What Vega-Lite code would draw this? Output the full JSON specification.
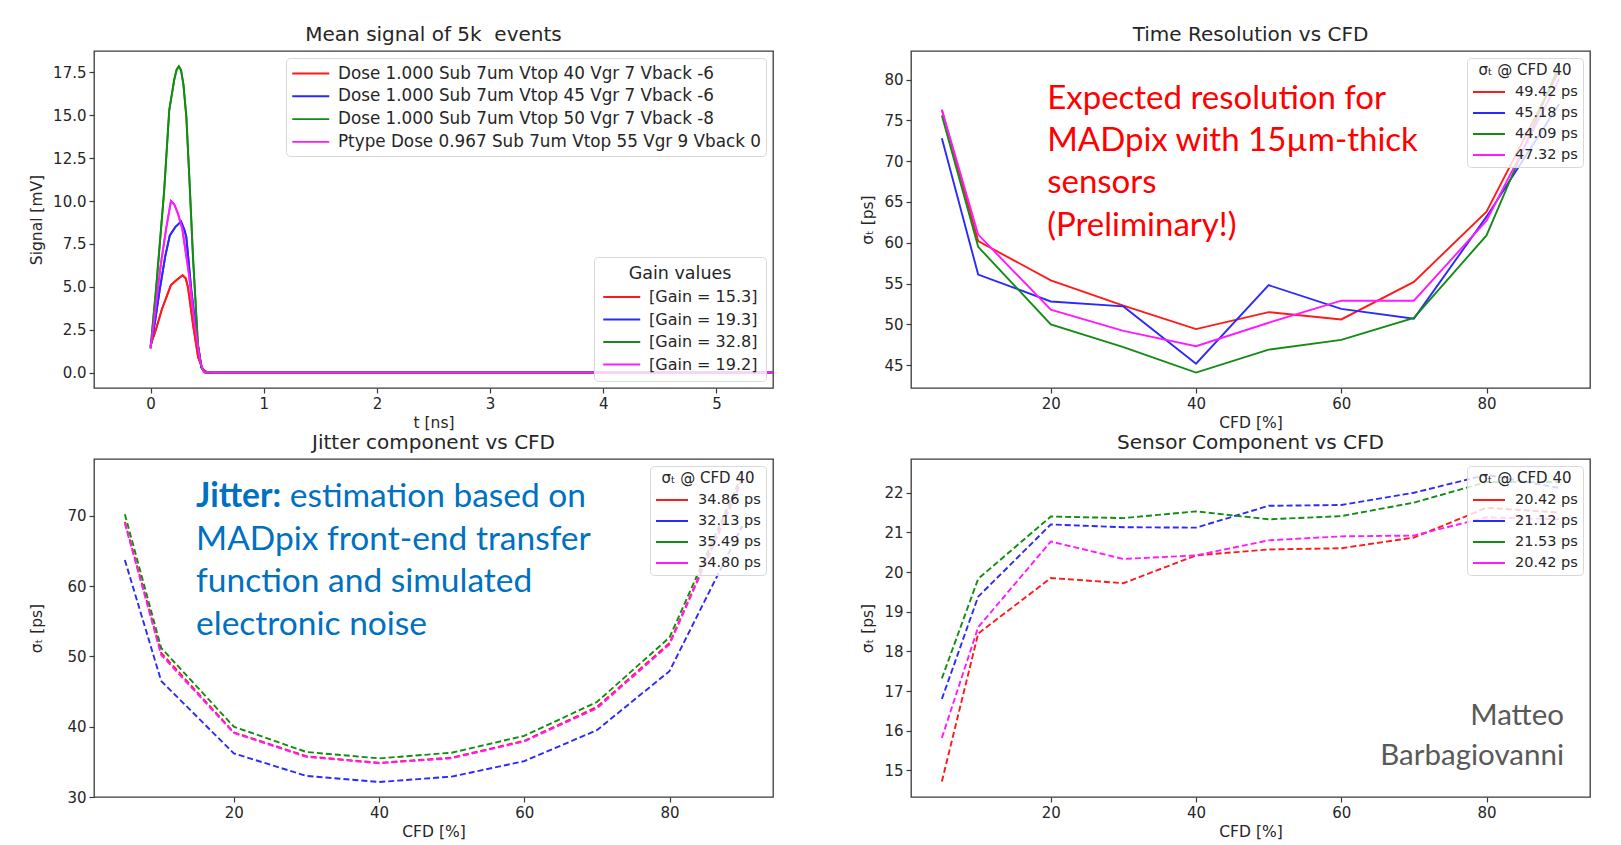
{
  "$schema": "https://vega.github.io/schema/vega-lite/v6.json",
  "padding": {"left": 28, "top": 24, "right": 0, "bottom": 0},
  "background": "white",
  "datasets": {
    "signal": [
      {"series": "Dose 1.000 Sub 7um Vtop 40 Vgr 7 Vback -6", "gain": "[Gain = 15.3]", "t": 0, "v": 1.6},
      {"series": "Dose 1.000 Sub 7um Vtop 40 Vgr 7 Vback -6", "gain": "[Gain = 15.3]", "t": 0.015, "v": 1.9},
      {"series": "Dose 1.000 Sub 7um Vtop 40 Vgr 7 Vback -6", "gain": "[Gain = 15.3]", "t": 0.044, "v": 2.45},
      {"series": "Dose 1.000 Sub 7um Vtop 40 Vgr 7 Vback -6", "gain": "[Gain = 15.3]", "t": 0.1, "v": 3.7},
      {"series": "Dose 1.000 Sub 7um Vtop 40 Vgr 7 Vback -6", "gain": "[Gain = 15.3]", "t": 0.18, "v": 5.1},
      {"series": "Dose 1.000 Sub 7um Vtop 40 Vgr 7 Vback -6", "gain": "[Gain = 15.3]", "t": 0.23, "v": 5.4},
      {"series": "Dose 1.000 Sub 7um Vtop 40 Vgr 7 Vback -6", "gain": "[Gain = 15.3]", "t": 0.283, "v": 5.68},
      {"series": "Dose 1.000 Sub 7um Vtop 40 Vgr 7 Vback -6", "gain": "[Gain = 15.3]", "t": 0.31, "v": 5.5},
      {"series": "Dose 1.000 Sub 7um Vtop 40 Vgr 7 Vback -6", "gain": "[Gain = 15.3]", "t": 0.33, "v": 5.0},
      {"series": "Dose 1.000 Sub 7um Vtop 40 Vgr 7 Vback -6", "gain": "[Gain = 15.3]", "t": 0.375, "v": 2.8},
      {"series": "Dose 1.000 Sub 7um Vtop 40 Vgr 7 Vback -6", "gain": "[Gain = 15.3]", "t": 0.42, "v": 0.9},
      {"series": "Dose 1.000 Sub 7um Vtop 40 Vgr 7 Vback -6", "gain": "[Gain = 15.3]", "t": 0.46, "v": 0.2},
      {"series": "Dose 1.000 Sub 7um Vtop 40 Vgr 7 Vback -6", "gain": "[Gain = 15.3]", "t": 0.5, "v": 0.03},
      {"series": "Dose 1.000 Sub 7um Vtop 40 Vgr 7 Vback -6", "gain": "[Gain = 15.3]", "t": 0.55, "v": 0},
      {"series": "Dose 1.000 Sub 7um Vtop 40 Vgr 7 Vback -6", "gain": "[Gain = 15.3]", "t": 1, "v": 0},
      {"series": "Dose 1.000 Sub 7um Vtop 40 Vgr 7 Vback -6", "gain": "[Gain = 15.3]", "t": 2, "v": 0},
      {"series": "Dose 1.000 Sub 7um Vtop 40 Vgr 7 Vback -6", "gain": "[Gain = 15.3]", "t": 3, "v": 0},
      {"series": "Dose 1.000 Sub 7um Vtop 40 Vgr 7 Vback -6", "gain": "[Gain = 15.3]", "t": 4, "v": 0},
      {"series": "Dose 1.000 Sub 7um Vtop 40 Vgr 7 Vback -6", "gain": "[Gain = 15.3]", "t": 5, "v": 0},
      {"series": "Dose 1.000 Sub 7um Vtop 40 Vgr 7 Vback -6", "gain": "[Gain = 15.3]", "t": 5.5, "v": 0},

      {"series": "Dose 1.000 Sub 7um Vtop 45 Vgr 7 Vback -6", "gain": "[Gain = 19.3]", "t": 0, "v": 1.5},
      {"series": "Dose 1.000 Sub 7um Vtop 45 Vgr 7 Vback -6", "gain": "[Gain = 19.3]", "t": 0.04, "v": 3.0},
      {"series": "Dose 1.000 Sub 7um Vtop 45 Vgr 7 Vback -6", "gain": "[Gain = 19.3]", "t": 0.08, "v": 4.8},
      {"series": "Dose 1.000 Sub 7um Vtop 45 Vgr 7 Vback -6", "gain": "[Gain = 19.3]", "t": 0.13, "v": 6.8},
      {"series": "Dose 1.000 Sub 7um Vtop 45 Vgr 7 Vback -6", "gain": "[Gain = 19.3]", "t": 0.17, "v": 8.0},
      {"series": "Dose 1.000 Sub 7um Vtop 45 Vgr 7 Vback -6", "gain": "[Gain = 19.3]", "t": 0.22, "v": 8.5},
      {"series": "Dose 1.000 Sub 7um Vtop 45 Vgr 7 Vback -6", "gain": "[Gain = 19.3]", "t": 0.27, "v": 8.8},
      {"series": "Dose 1.000 Sub 7um Vtop 45 Vgr 7 Vback -6", "gain": "[Gain = 19.3]", "t": 0.3, "v": 8.3},
      {"series": "Dose 1.000 Sub 7um Vtop 45 Vgr 7 Vback -6", "gain": "[Gain = 19.3]", "t": 0.316, "v": 7.9},
      {"series": "Dose 1.000 Sub 7um Vtop 45 Vgr 7 Vback -6", "gain": "[Gain = 19.3]", "t": 0.36, "v": 4.8},
      {"series": "Dose 1.000 Sub 7um Vtop 45 Vgr 7 Vback -6", "gain": "[Gain = 19.3]", "t": 0.41, "v": 2.0},
      {"series": "Dose 1.000 Sub 7um Vtop 45 Vgr 7 Vback -6", "gain": "[Gain = 19.3]", "t": 0.45, "v": 0.3},
      {"series": "Dose 1.000 Sub 7um Vtop 45 Vgr 7 Vback -6", "gain": "[Gain = 19.3]", "t": 0.48, "v": 0.02},
      {"series": "Dose 1.000 Sub 7um Vtop 45 Vgr 7 Vback -6", "gain": "[Gain = 19.3]", "t": 0.55, "v": 0},
      {"series": "Dose 1.000 Sub 7um Vtop 45 Vgr 7 Vback -6", "gain": "[Gain = 19.3]", "t": 1, "v": 0},
      {"series": "Dose 1.000 Sub 7um Vtop 45 Vgr 7 Vback -6", "gain": "[Gain = 19.3]", "t": 2, "v": 0},
      {"series": "Dose 1.000 Sub 7um Vtop 45 Vgr 7 Vback -6", "gain": "[Gain = 19.3]", "t": 3, "v": 0},
      {"series": "Dose 1.000 Sub 7um Vtop 45 Vgr 7 Vback -6", "gain": "[Gain = 19.3]", "t": 4, "v": 0},
      {"series": "Dose 1.000 Sub 7um Vtop 45 Vgr 7 Vback -6", "gain": "[Gain = 19.3]", "t": 5, "v": 0},
      {"series": "Dose 1.000 Sub 7um Vtop 45 Vgr 7 Vback -6", "gain": "[Gain = 19.3]", "t": 5.5, "v": 0},

      {"series": "Dose 1.000 Sub 7um Vtop 50 Vgr 7 Vback -8", "gain": "[Gain = 32.8]", "t": 0, "v": 1.45},
      {"series": "Dose 1.000 Sub 7um Vtop 50 Vgr 7 Vback -8", "gain": "[Gain = 32.8]", "t": 0.05, "v": 5.0},
      {"series": "Dose 1.000 Sub 7um Vtop 50 Vgr 7 Vback -8", "gain": "[Gain = 32.8]", "t": 0.12, "v": 10.6},
      {"series": "Dose 1.000 Sub 7um Vtop 50 Vgr 7 Vback -8", "gain": "[Gain = 32.8]", "t": 0.165, "v": 15.3},
      {"series": "Dose 1.000 Sub 7um Vtop 50 Vgr 7 Vback -8", "gain": "[Gain = 32.8]", "t": 0.21, "v": 17.1},
      {"series": "Dose 1.000 Sub 7um Vtop 50 Vgr 7 Vback -8", "gain": "[Gain = 32.8]", "t": 0.23, "v": 17.65},
      {"series": "Dose 1.000 Sub 7um Vtop 50 Vgr 7 Vback -8", "gain": "[Gain = 32.8]", "t": 0.25, "v": 17.85},
      {"series": "Dose 1.000 Sub 7um Vtop 50 Vgr 7 Vback -8", "gain": "[Gain = 32.8]", "t": 0.27, "v": 17.6},
      {"series": "Dose 1.000 Sub 7um Vtop 50 Vgr 7 Vback -8", "gain": "[Gain = 32.8]", "t": 0.29, "v": 16.8},
      {"series": "Dose 1.000 Sub 7um Vtop 50 Vgr 7 Vback -8", "gain": "[Gain = 32.8]", "t": 0.316, "v": 14.9},
      {"series": "Dose 1.000 Sub 7um Vtop 50 Vgr 7 Vback -8", "gain": "[Gain = 32.8]", "t": 0.345, "v": 11.0},
      {"series": "Dose 1.000 Sub 7um Vtop 50 Vgr 7 Vback -8", "gain": "[Gain = 32.8]", "t": 0.375, "v": 6.7},
      {"series": "Dose 1.000 Sub 7um Vtop 50 Vgr 7 Vback -8", "gain": "[Gain = 32.8]", "t": 0.42, "v": 1.5},
      {"series": "Dose 1.000 Sub 7um Vtop 50 Vgr 7 Vback -8", "gain": "[Gain = 32.8]", "t": 0.45, "v": 0.3},
      {"series": "Dose 1.000 Sub 7um Vtop 50 Vgr 7 Vback -8", "gain": "[Gain = 32.8]", "t": 0.48, "v": 0.02},
      {"series": "Dose 1.000 Sub 7um Vtop 50 Vgr 7 Vback -8", "gain": "[Gain = 32.8]", "t": 0.55, "v": 0},
      {"series": "Dose 1.000 Sub 7um Vtop 50 Vgr 7 Vback -8", "gain": "[Gain = 32.8]", "t": 1, "v": 0},
      {"series": "Dose 1.000 Sub 7um Vtop 50 Vgr 7 Vback -8", "gain": "[Gain = 32.8]", "t": 2, "v": 0},
      {"series": "Dose 1.000 Sub 7um Vtop 50 Vgr 7 Vback -8", "gain": "[Gain = 32.8]", "t": 3, "v": 0},
      {"series": "Dose 1.000 Sub 7um Vtop 50 Vgr 7 Vback -8", "gain": "[Gain = 32.8]", "t": 4, "v": 0},
      {"series": "Dose 1.000 Sub 7um Vtop 50 Vgr 7 Vback -8", "gain": "[Gain = 32.8]", "t": 5, "v": 0},
      {"series": "Dose 1.000 Sub 7um Vtop 50 Vgr 7 Vback -8", "gain": "[Gain = 32.8]", "t": 5.5, "v": 0},

      {"series": "Ptype Dose 0.967 Sub 7um Vtop 55 Vgr 9 Vback 0", "gain": "[Gain = 19.2]", "t": 0, "v": 1.4},
      {"series": "Ptype Dose 0.967 Sub 7um Vtop 55 Vgr 9 Vback 0", "gain": "[Gain = 19.2]", "t": 0.045, "v": 3.8},
      {"series": "Ptype Dose 0.967 Sub 7um Vtop 55 Vgr 9 Vback 0", "gain": "[Gain = 19.2]", "t": 0.09, "v": 6.3},
      {"series": "Ptype Dose 0.967 Sub 7um Vtop 55 Vgr 9 Vback 0", "gain": "[Gain = 19.2]", "t": 0.14, "v": 8.5},
      {"series": "Ptype Dose 0.967 Sub 7um Vtop 55 Vgr 9 Vback 0", "gain": "[Gain = 19.2]", "t": 0.18, "v": 10.0},
      {"series": "Ptype Dose 0.967 Sub 7um Vtop 55 Vgr 9 Vback 0", "gain": "[Gain = 19.2]", "t": 0.21, "v": 9.8},
      {"series": "Ptype Dose 0.967 Sub 7um Vtop 55 Vgr 9 Vback 0", "gain": "[Gain = 19.2]", "t": 0.24, "v": 9.3},
      {"series": "Ptype Dose 0.967 Sub 7um Vtop 55 Vgr 9 Vback 0", "gain": "[Gain = 19.2]", "t": 0.28, "v": 8.4},
      {"series": "Ptype Dose 0.967 Sub 7um Vtop 55 Vgr 9 Vback 0", "gain": "[Gain = 19.2]", "t": 0.34, "v": 5.7},
      {"series": "Ptype Dose 0.967 Sub 7um Vtop 55 Vgr 9 Vback 0", "gain": "[Gain = 19.2]", "t": 0.39, "v": 2.8},
      {"series": "Ptype Dose 0.967 Sub 7um Vtop 55 Vgr 9 Vback 0", "gain": "[Gain = 19.2]", "t": 0.44, "v": 0.6},
      {"series": "Ptype Dose 0.967 Sub 7um Vtop 55 Vgr 9 Vback 0", "gain": "[Gain = 19.2]", "t": 0.47, "v": 0.05},
      {"series": "Ptype Dose 0.967 Sub 7um Vtop 55 Vgr 9 Vback 0", "gain": "[Gain = 19.2]", "t": 0.55, "v": 0},
      {"series": "Ptype Dose 0.967 Sub 7um Vtop 55 Vgr 9 Vback 0", "gain": "[Gain = 19.2]", "t": 1, "v": 0},
      {"series": "Ptype Dose 0.967 Sub 7um Vtop 55 Vgr 9 Vback 0", "gain": "[Gain = 19.2]", "t": 2, "v": 0},
      {"series": "Ptype Dose 0.967 Sub 7um Vtop 55 Vgr 9 Vback 0", "gain": "[Gain = 19.2]", "t": 3, "v": 0},
      {"series": "Ptype Dose 0.967 Sub 7um Vtop 55 Vgr 9 Vback 0", "gain": "[Gain = 19.2]", "t": 4, "v": 0},
      {"series": "Ptype Dose 0.967 Sub 7um Vtop 55 Vgr 9 Vback 0", "gain": "[Gain = 19.2]", "t": 5, "v": 0},
      {"series": "Ptype Dose 0.967 Sub 7um Vtop 55 Vgr 9 Vback 0", "gain": "[Gain = 19.2]", "t": 5.5, "v": 0}
    ],
    "tres": [
      {"c": "r", "cfd": 5, "sig": 76.3}, {"c": "r", "cfd": 10, "sig": 60.2}, {"c": "r", "cfd": 20, "sig": 55.4}, {"c": "r", "cfd": 30, "sig": 52.3}, {"c": "r", "cfd": 40, "sig": 49.42}, {"c": "r", "cfd": 50, "sig": 51.5}, {"c": "r", "cfd": 60, "sig": 50.6}, {"c": "r", "cfd": 70, "sig": 55.2}, {"c": "r", "cfd": 80, "sig": 63.8}, {"c": "r", "cfd": 90, "sig": 81.1},
      {"c": "b", "cfd": 5, "sig": 72.8}, {"c": "b", "cfd": 10, "sig": 56.1}, {"c": "b", "cfd": 20, "sig": 52.8}, {"c": "b", "cfd": 30, "sig": 52.2}, {"c": "b", "cfd": 40, "sig": 45.18}, {"c": "b", "cfd": 50, "sig": 54.8}, {"c": "b", "cfd": 60, "sig": 51.9}, {"c": "b", "cfd": 70, "sig": 50.7}, {"c": "b", "cfd": 80, "sig": 63.2}, {"c": "b", "cfd": 90, "sig": 77.0},
      {"c": "g", "cfd": 5, "sig": 75.6}, {"c": "g", "cfd": 10, "sig": 59.5}, {"c": "g", "cfd": 20, "sig": 50.0}, {"c": "g", "cfd": 30, "sig": 47.2}, {"c": "g", "cfd": 40, "sig": 44.09}, {"c": "g", "cfd": 50, "sig": 46.9}, {"c": "g", "cfd": 60, "sig": 48.1}, {"c": "g", "cfd": 70, "sig": 50.8}, {"c": "g", "cfd": 80, "sig": 60.9}, {"c": "g", "cfd": 90, "sig": 81.7},
      {"c": "m", "cfd": 5, "sig": 76.3}, {"c": "m", "cfd": 10, "sig": 61.0}, {"c": "m", "cfd": 20, "sig": 51.8}, {"c": "m", "cfd": 30, "sig": 49.2}, {"c": "m", "cfd": 40, "sig": 47.32}, {"c": "m", "cfd": 50, "sig": 50.2}, {"c": "m", "cfd": 60, "sig": 52.9}, {"c": "m", "cfd": 70, "sig": 52.9}, {"c": "m", "cfd": 80, "sig": 62.7}, {"c": "m", "cfd": 90, "sig": 80.0}
    ],
    "jitter": [
      {"c": "r", "cfd": 5, "sig": 69.1}, {"c": "r", "cfd": 10, "sig": 50.5}, {"c": "r", "cfd": 20, "sig": 39.2}, {"c": "r", "cfd": 30, "sig": 35.8}, {"c": "r", "cfd": 40, "sig": 34.86}, {"c": "r", "cfd": 50, "sig": 35.6}, {"c": "r", "cfd": 60, "sig": 38.0}, {"c": "r", "cfd": 70, "sig": 42.8}, {"c": "r", "cfd": 80, "sig": 51.9}, {"c": "r", "cfd": 90, "sig": 75.2},
      {"c": "b", "cfd": 5, "sig": 63.7}, {"c": "b", "cfd": 10, "sig": 46.5}, {"c": "b", "cfd": 20, "sig": 36.2}, {"c": "b", "cfd": 30, "sig": 33.0}, {"c": "b", "cfd": 40, "sig": 32.13}, {"c": "b", "cfd": 50, "sig": 32.9}, {"c": "b", "cfd": 60, "sig": 35.1}, {"c": "b", "cfd": 70, "sig": 39.5}, {"c": "b", "cfd": 80, "sig": 47.9}, {"c": "b", "cfd": 90, "sig": 68.5},
      {"c": "g", "cfd": 5, "sig": 70.2}, {"c": "g", "cfd": 10, "sig": 51.2}, {"c": "g", "cfd": 20, "sig": 40.0}, {"c": "g", "cfd": 30, "sig": 36.4}, {"c": "g", "cfd": 40, "sig": 35.49}, {"c": "g", "cfd": 50, "sig": 36.3}, {"c": "g", "cfd": 60, "sig": 38.7}, {"c": "g", "cfd": 70, "sig": 43.5}, {"c": "g", "cfd": 80, "sig": 52.7}, {"c": "g", "cfd": 90, "sig": 75.8},
      {"c": "m", "cfd": 5, "sig": 68.9}, {"c": "m", "cfd": 10, "sig": 50.2}, {"c": "m", "cfd": 20, "sig": 39.1}, {"c": "m", "cfd": 30, "sig": 35.7}, {"c": "m", "cfd": 40, "sig": 34.8}, {"c": "m", "cfd": 50, "sig": 35.5}, {"c": "m", "cfd": 60, "sig": 37.9}, {"c": "m", "cfd": 70, "sig": 42.6}, {"c": "m", "cfd": 80, "sig": 51.7}, {"c": "m", "cfd": 90, "sig": 75.0}
    ],
    "sensor": [
      {"c": "r", "cfd": 5, "sig": 14.72}, {"c": "r", "cfd": 10, "sig": 18.45}, {"c": "r", "cfd": 20, "sig": 19.85}, {"c": "r", "cfd": 30, "sig": 19.72}, {"c": "r", "cfd": 40, "sig": 20.42}, {"c": "r", "cfd": 50, "sig": 20.57}, {"c": "r", "cfd": 60, "sig": 20.6}, {"c": "r", "cfd": 70, "sig": 20.87}, {"c": "r", "cfd": 80, "sig": 21.62}, {"c": "r", "cfd": 90, "sig": 21.5},
      {"c": "b", "cfd": 5, "sig": 16.8}, {"c": "b", "cfd": 10, "sig": 19.38}, {"c": "b", "cfd": 20, "sig": 21.2}, {"c": "b", "cfd": 30, "sig": 21.13}, {"c": "b", "cfd": 40, "sig": 21.12}, {"c": "b", "cfd": 50, "sig": 21.67}, {"c": "b", "cfd": 60, "sig": 21.69}, {"c": "b", "cfd": 70, "sig": 22.0}, {"c": "b", "cfd": 80, "sig": 22.45}, {"c": "b", "cfd": 90, "sig": 22.12},
      {"c": "g", "cfd": 5, "sig": 17.32}, {"c": "g", "cfd": 10, "sig": 19.83}, {"c": "g", "cfd": 20, "sig": 21.4}, {"c": "g", "cfd": 30, "sig": 21.36}, {"c": "g", "cfd": 40, "sig": 21.53}, {"c": "g", "cfd": 50, "sig": 21.33}, {"c": "g", "cfd": 60, "sig": 21.41}, {"c": "g", "cfd": 70, "sig": 21.75}, {"c": "g", "cfd": 80, "sig": 22.27}, {"c": "g", "cfd": 90, "sig": 22.27},
      {"c": "m", "cfd": 5, "sig": 15.82}, {"c": "m", "cfd": 10, "sig": 18.61}, {"c": "m", "cfd": 20, "sig": 20.77}, {"c": "m", "cfd": 30, "sig": 20.33}, {"c": "m", "cfd": 40, "sig": 20.42}, {"c": "m", "cfd": 50, "sig": 20.8}, {"c": "m", "cfd": 60, "sig": 20.9}, {"c": "m", "cfd": 70, "sig": 20.92}, {"c": "m", "cfd": 80, "sig": 21.38}, {"c": "m", "cfd": 90, "sig": 21.33}
    ],
    "noteTres": [
      {"note": "Expected resolution for", "cfd": 19.5, "sig": 76.35},
      {"note": "MADpix with 15µm-thick", "cfd": 19.5, "sig": 71.3},
      {"note": "sensors", "cfd": 19.5, "sig": 66.1},
      {"note": "(Preliminary!)", "cfd": 19.5, "sig": 60.8}
    ],
    "noteJitterBold": [
      {"note": "Jitter:", "cfd": 14.8, "sig": 71.25}
    ],
    "noteJitter": [
      {"note": "estimation based on", "cfd": 27.7, "sig": 71.25},
      {"note": "MADpix front-end transfer", "cfd": 14.8, "sig": 65.18},
      {"note": "function and simulated", "cfd": 14.8, "sig": 59.11},
      {"note": "electronic noise", "cfd": 14.8, "sig": 53.04}
    ],
    "noteSensor": [
      {"note": "Matteo", "cfd": 90.67, "sig": 16.15},
      {"note": "Barbagiovanni", "cfd": 90.67, "sig": 15.13}
    ]
  },
  "config": {
    "font": "DejaVu Sans",
    "view": {"stroke": "#3a3a3a", "strokeWidth": 1.3},
    "axis": {"domain": false, "grid": false, "ticks": true, "tickSize": 5, "tickColor": "#3a3a3a", "tickWidth": 1.2, "labelFontSize": 15, "labelColor": "#262626", "labelPadding": 3, "labelFlush": false, "labelOverlap": false, "titleFontSize": 15.5, "titleFontWeight": "normal", "titleColor": "#262626", "titlePadding": 4},
    "title": {"fontSize": 20, "fontWeight": "normal", "color": "#262626", "offset": 6},
    "legend": {"strokeColor": "#d8d8d8", "fillColor": "rgba(255,255,255,0.8)", "cornerRadius": 4, "padding": 5, "symbolStrokeWidth": 2.4, "symbolDash": [1, 0], "labelColor": "#262626", "titleColor": "#262626", "titleFontWeight": "normal", "labelLimit": 600, "offset": 7},
    "line": {"strokeWidth": 1.9}
  },
  "resolve": {"scale": {"color": "independent", "stroke": "independent"}, "legend": {"color": "independent", "stroke": "independent"}},
  "spacing": 0,
  "vconcat": [
    {
      "hconcat": [
        {
          "width": 679, "height": 337,
          "title": "Mean signal of 5k\u00a0 events",
          "data": {"name": "signal"},
          "encoding": {
            "x": {"field": "t", "type": "quantitative", "scale": {"domain": [-0.5, 5.5], "nice": false, "zero": false}, "axis": {"values": [0, 1, 2, 3, 4, 5], "title": "t [ns]"}},
            "y": {"field": "v", "type": "quantitative", "scale": {"domain": [-0.89, 18.74], "nice": false, "zero": false}, "axis": {"values": [0, 2.5, 5, 7.5, 10, 12.5, 15, 17.5], "format": ".1f", "title": "Signal [mV]", "titleX": -58, "titleBaseline": "middle"}}
          },
          "layer": [
            {
              "mark": {"type": "line", "clip": true},
              "encoding": {
                "color": {"field": "series", "type": "nominal",
                  "scale": {"domain": ["Dose 1.000 Sub 7um Vtop 40 Vgr 7 Vback -6", "Dose 1.000 Sub 7um Vtop 45 Vgr 7 Vback -6", "Dose 1.000 Sub 7um Vtop 50 Vgr 7 Vback -8", "Ptype Dose 0.967 Sub 7um Vtop 55 Vgr 9 Vback 0"], "range": ["#ff1a1a", "#2a2aff", "#128c12", "#ff1aff"]},
                  "legend": {"orient": "top-right", "title": null, "labelFontSize": 16.8, "symbolType": "M-1,0H3", "symbolSize": 342, "labelOffset": 26, "rowPadding": 2.8}}
              }
            },
            {
              "mark": {"type": "line", "clip": true},
              "encoding": {
                "stroke": {"field": "gain", "type": "nominal",
                  "scale": {"domain": ["[Gain = 15.3]", "[Gain = 19.3]", "[Gain = 32.8]", "[Gain = 19.2]"], "range": ["#ff1a1a", "#2a2aff", "#128c12", "#ff1aff"]},
                  "legend": {"orient": "bottom-right", "title": "Gain values", "titleFontSize": 17.5, "titleAnchor": "middle", "labelFontSize": 16, "symbolType": "M-1,0H3", "symbolSize": 342, "labelOffset": 26, "rowPadding": 3.5, "titlePadding": 4, "padding": 8}}
              }
            }
          ]
        },
        {
          "width": 679, "height": 337,
          "title": "Time Resolution vs CFD",
          "encoding": {
            "x": {"field": "cfd", "type": "quantitative", "scale": {"domain": [0.75, 94.25], "nice": false, "zero": false}, "axis": {"values": [20, 40, 60, 80], "title": "CFD [%]"}},
            "y": {"field": "sig", "type": "quantitative", "scale": {"domain": [42.2, 83.5], "nice": false, "zero": false}, "axis": {"values": [45, 50, 55, 60, 65, 70, 75, 80], "title": "σₜ [ps]", "titleX": -44, "titleBaseline": "middle"}}
          },
          "layer": [
            {
              "data": {"name": "tres"},
              "mark": {"type": "line", "clip": true},
              "encoding": {
                "color": {"field": "c", "type": "nominal", "scale": {"domain": ["r", "b", "g", "m"], "range": ["#ff1a1a", "#2a2aff", "#128c12", "#ff1aff"]},
                  "legend": {"orient": "top-right", "title": "σₜ @ CFD 40", "titleFontSize": 15, "titleAnchor": "middle", "labelFontSize": 14.5, "symbolType": "M-1,0H3", "symbolSize": 256, "labelOffset": 25, "rowPadding": 5,
                    "labelExpr": "datum.value == 'r' ? '49.42 ps' : datum.value == 'b' ? '45.18 ps' : datum.value == 'g' ? '44.09 ps' : '47.32 ps'"}}
              }
            },
            {
              "data": {"name": "noteTres"},
              "mark": {"type": "text", "font": "Lato", "fontSize": 33, "color": "#ff0000", "align": "left", "baseline": "alphabetic"},
              "encoding": {"text": {"field": "note"}}
            }
          ]
        }
      ],
      "spacing": 85,
      "resolve": {"scale": {"color": "independent", "stroke": "independent"}, "legend": {"color": "independent", "stroke": "independent"}}
    },
    {
      "hconcat": [
        {
          "width": 679, "height": 338,
          "title": "Jitter component vs CFD",
          "encoding": {
            "x": {"field": "cfd", "type": "quantitative", "scale": {"domain": [0.75, 94.25], "nice": false, "zero": false}, "axis": {"values": [20, 40, 60, 80], "title": "CFD [%]"}},
            "y": {"field": "sig", "type": "quantitative", "scale": {"domain": [30, 78.06], "nice": false, "zero": false}, "axis": {"values": [30, 40, 50, 60, 70], "title": "σₜ [ps]", "titleX": -58, "titleBaseline": "middle"}}
          },
          "layer": [
            {
              "data": {"name": "jitter"},
              "mark": {"type": "line", "clip": true, "strokeDash": [6, 3]},
              "encoding": {
                "color": {"field": "c", "type": "nominal", "scale": {"domain": ["r", "b", "g", "m"], "range": ["#ff1a1a", "#2a2aff", "#128c12", "#ff1aff"]},
                  "legend": {"orient": "top-right", "title": "σₜ @ CFD 40", "titleFontSize": 15, "titleAnchor": "middle", "labelFontSize": 14.5, "symbolType": "M-1,0H3", "symbolSize": 256, "labelOffset": 25, "rowPadding": 5,
                    "labelExpr": "datum.value == 'r' ? '34.86 ps' : datum.value == 'b' ? '32.13 ps' : datum.value == 'g' ? '35.49 ps' : '34.80 ps'"}}
              }
            },
            {
              "data": {"name": "noteJitterBold"},
              "mark": {"type": "text", "font": "Lato", "fontWeight": "bold", "fontSize": 33.5, "color": "#0070c0", "align": "left", "baseline": "alphabetic"},
              "encoding": {"text": {"field": "note"}}
            },
            {
              "data": {"name": "noteJitter"},
              "mark": {"type": "text", "font": "Lato", "fontSize": 33.5, "color": "#0070c0", "align": "left", "baseline": "alphabetic"},
              "encoding": {"text": {"field": "note"}}
            }
          ]
        },
        {
          "width": 679, "height": 338,
          "title": "Sensor Component vs CFD",
          "encoding": {
            "x": {"field": "cfd", "type": "quantitative", "scale": {"domain": [0.75, 94.25], "nice": false, "zero": false}, "axis": {"values": [20, 40, 60, 80], "title": "CFD [%]"}},
            "y": {"field": "sig", "type": "quantitative", "scale": {"domain": [14.33, 22.85], "nice": false, "zero": false}, "axis": {"values": [15, 16, 17, 18, 19, 20, 21, 22], "title": "σₜ [ps]", "titleX": -44, "titleBaseline": "middle"}}
          },
          "layer": [
            {
              "data": {"name": "sensor"},
              "mark": {"type": "line", "clip": true, "strokeDash": [6, 3]},
              "encoding": {
                "color": {"field": "c", "type": "nominal", "scale": {"domain": ["r", "b", "g", "m"], "range": ["#ff1a1a", "#2a2aff", "#128c12", "#ff1aff"]},
                  "legend": {"orient": "top-right", "title": "σₜ @ CFD 40", "titleFontSize": 15, "titleAnchor": "middle", "labelFontSize": 14.5, "symbolType": "M-1,0H3", "symbolSize": 256, "labelOffset": 25, "rowPadding": 5,
                    "labelExpr": "datum.value == 'r' ? '20.42 ps' : datum.value == 'b' ? '21.12 ps' : datum.value == 'g' ? '21.53 ps' : '20.42 ps'"}}
              }
            },
            {
              "data": {"name": "noteSensor"},
              "mark": {"type": "text", "font": "Lato", "fontSize": 29.5, "color": "#595959", "align": "right", "baseline": "alphabetic"},
              "encoding": {"text": {"field": "note"}}
            }
          ]
        }
      ],
      "spacing": 85,
      "resolve": {"scale": {"color": "independent", "stroke": "independent"}, "legend": {"color": "independent", "stroke": "independent"}}
    }
  ]
}
